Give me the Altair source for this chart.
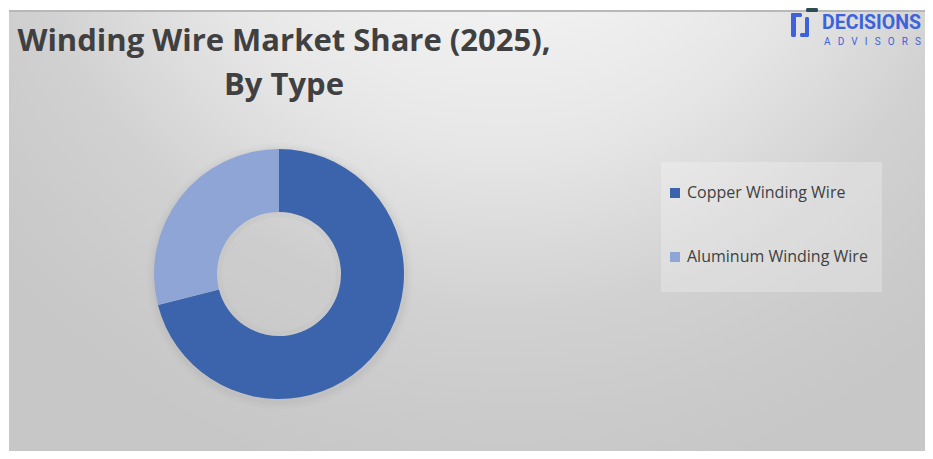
import altair as alt
import pandas as pd

# ---- data ----
categories = ["Copper Winding Wire", "Aluminum Winding Wire"]
shares = [71, 29]
slice_order = [0, 1]
colors = ["#3B64AD", "#8FA5D6"]

title_lines = ["Winding Wire Market Share (2025),", "By Type"]
logo_main = "DECISIONS"
logo_sub = "\u2002\u2009".join(list("ADVISORS"))

W, H = 917, 443
OX, OY = 8, 8  # page margin offset

df = pd.DataFrame({"type": categories, "share": shares, "ord": slice_order})
one = pd.DataFrame({"k": [0]})

bg = alt.Chart(one).mark_rect(
    fill=alt.RadialGradient(
        gradient="radial",
        stops=[
            alt.GradientStop(color="#ffffff", offset=0),
            alt.GradientStop(color="#f1f1f1", offset=0.28),
            alt.GradientStop(color="#e7e7e7", offset=0.48),
            alt.GradientStop(color="#d1d1d1", offset=0.73),
            alt.GradientStop(color="#cacaca", offset=0.9),
            alt.GradientStop(color="#c7c7c7", offset=1),
        ],
        x1=0.537, y1=0.05, r1=0, x2=0.537, y2=0.05, r2=0.74,
    )
).encode(x=alt.value(0), x2=alt.value(W), y=alt.value(0), y2=alt.value(H))

border = alt.Chart(one).mark_rule(color="#b8b8b8", strokeWidth=2).encode(
    x=alt.value(0), x2=alt.value(W), y=alt.value(1),
)

cx, cy = 278 - OX, 272 - OY

shadow_layers = []
for r, op in [(133, 0.03), (130, 0.04), (128, 0.05)]:
    shadow_layers.append(
        alt.Chart(one).mark_arc(outerRadius=r, innerRadius=0, color="#808080", opacity=op)
        .encode(theta=alt.value(6.2832), x=alt.value(cx + 1), y=alt.value(cy + 2))
    )

pie = alt.Chart(df).mark_arc(innerRadius=62, outerRadius=125).encode(
    theta=alt.Theta("share:Q", stack=True),
    order=alt.Order("ord:Q"),
    color=alt.Color(
        "type:N",
        scale=alt.Scale(domain=categories, range=colors),
        legend=alt.Legend(
            title=None,
            orient="none",
            legendX=666 - OX,
            legendY=183 - OY,
            symbolType="square",
            symbolSize=100,
            symbolStrokeWidth=0,
            labelFont="Open Sans",
            labelFontSize=16,
            labelColor="#404040",
            labelOffset=4,
            rowPadding=48,
            padding=0,
            labelLimit=300,
        ),
    ),
    x=alt.value(cx),
    y=alt.value(cy),
)

hole_fill = alt.Chart(one).mark_arc(outerRadius=62, innerRadius=0, color="#ffffff", opacity=0.12).encode(
    theta=alt.value(6.2832), x=alt.value(cx), y=alt.value(cy)
)
hole_shadow = alt.Chart(one).mark_arc(outerRadius=62, innerRadius=57, color="#9a9a9a", opacity=0.08).encode(
    theta=alt.value(6.2832), x=alt.value(cx), y=alt.value(cy)
)

legend_bg = alt.Chart(one).mark_rect(fill="#ffffff", opacity=0.25).encode(
    x=alt.value(660 - OX), x2=alt.value(881 - OX), y=alt.value(160 - OY), y2=alt.value(290 - OY)
)

t1 = alt.Chart(pd.DataFrame({"t": [title_lines[0]]})).mark_text(
    font="Open Sans", fontWeight="bold", fontSize=31, color="#404040", align="center", baseline="alphabetic"
).encode(text="t:N", x=alt.value(283 - OX), y=alt.value(48.5 - OY))

t2 = alt.Chart(pd.DataFrame({"t": [title_lines[1]]})).mark_text(
    font="Open Sans", fontWeight="bold", fontSize=31, color="#404040", align="center", baseline="alphabetic"
).encode(text="t:N", x=alt.value(283 - OX), y=alt.value(93 - OY))

logo_blue = "#3D63DC"
logo1 = alt.Chart(pd.DataFrame({"t": [logo_main]})).mark_text(
    font="Roboto", fontWeight="bold", fontSize=19.5, color=logo_blue, align="left", baseline="alphabetic"
).encode(text="t:N", x=alt.value(821 - OX), y=alt.value(27 - OY))

logo2 = alt.Chart(pd.DataFrame({"t": [logo_sub]})).mark_text(
    font="Roboto", fontSize=10, color=logo_blue, align="left", baseline="alphabetic"
).encode(text="t:N", x=alt.value(823 - OX), y=alt.value(43 - OY))

# logo icon (decorative pieces)
icon_parts = [
    (790, 795, 11, 35, logo_blue),   # left vertical
    (790, 801, 11, 15, logo_blue),   # top arm
    (804, 808, 15, 34, logo_blue),   # J stem
    (799, 808, 31, 35, logo_blue),   # J foot
    (805, 817, 6, 10, "#2E4A55"),    # dark bar
]
icon_layers = [
    alt.Chart(one).mark_rect(fill=c, cornerRadius=1.5).encode(
        x=alt.value(x0 - OX), x2=alt.value(x1 - OX), y=alt.value(y0 - OY), y2=alt.value(y1 - OY)
    )
    for x0, x1, y0, y1, c in icon_parts
]

chart = alt.layer(
    bg, border, *shadow_layers, pie, hole_fill, hole_shadow, legend_bg, t1, t2, *icon_layers, logo1, logo2
).properties(
    width=W, height=H, padding=0,
    autosize=alt.AutoSizeParams(type="fit", contains="padding"),
).configure_view(stroke=None)

chart.save("out.html", embed_options={"renderer": "svg", "actions": False})
